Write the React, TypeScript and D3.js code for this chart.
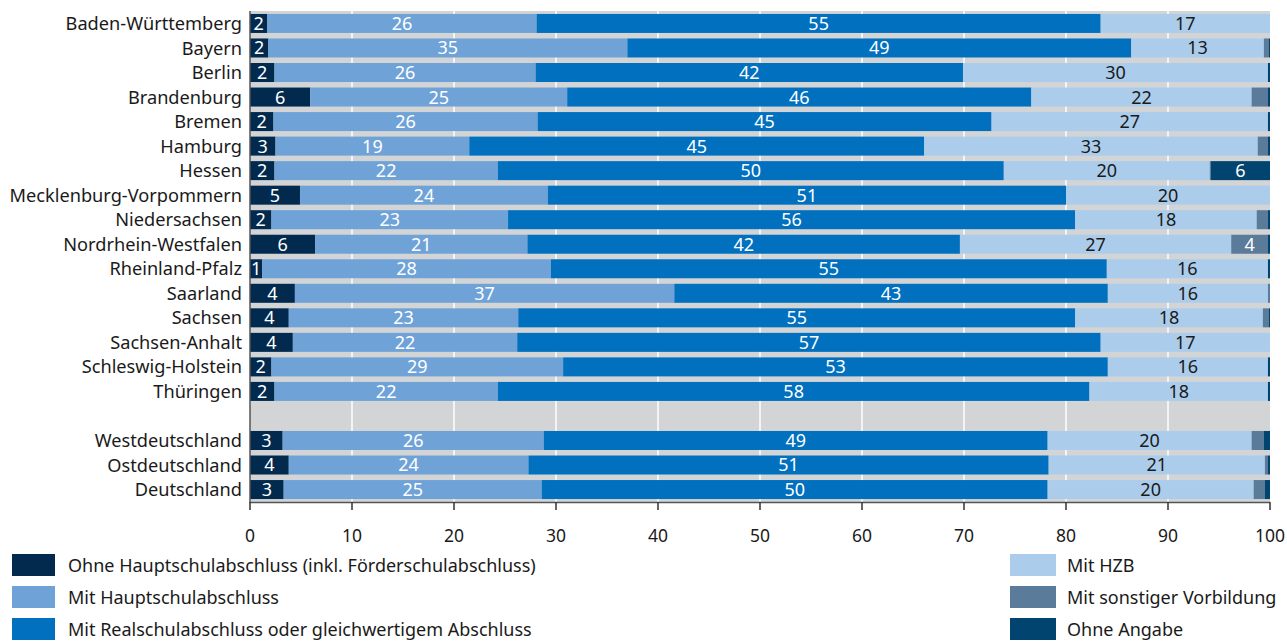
import React from "react";
import * as d3 from "d3";

const states = [
  "Baden-Württemberg", "Bayern", "Berlin", "Brandenburg", "Bremen", "Hamburg", "Hessen",
  "Mecklenburg-Vorpommern", "Niedersachsen", "Nordrhein-Westfalen", "Rheinland-Pfalz",
  "Saarland", "Sachsen", "Sachsen-Anhalt", "Schleswig-Holstein", "Thüringen",
];
const totals = ["Westdeutschland", "Ostdeutschland", "Deutschland"];
const categories = [...states, ...totals];

const seriesNames = [
  "Ohne Hauptschulabschluss (inkl. Förderschulabschluss)",
  "Mit Hauptschulabschluss",
  "Mit Realschulabschluss oder gleichwertigem Abschluss",
  "Mit HZB",
  "Mit sonstiger Vorbildung",
  "Ohne Angabe",
];

const ohneHS = [1.7, 1.8, 2.4, 5.9, 2.3, 2.5, 2.4, 4.9, 2.1, 6.4, 1.2, 4.4, 3.8, 4.2, 2.1, 2.4, 3.2, 3.8, 3.3];
const mitHS = [26.4, 35.2, 25.6, 25.2, 25.9, 19.0, 21.9, 24.3, 23.2, 20.8, 28.3, 37.2, 22.5, 22.0, 28.6, 21.9, 25.6, 23.5, 25.3];
const mitRS = [55.3, 49.4, 41.9, 45.5, 44.5, 44.6, 49.6, 50.8, 55.6, 42.4, 54.5, 42.5, 54.6, 57.2, 53.4, 58.0, 49.4, 51.0, 49.6];
const mitHZB = [16.6, 13.0, 29.9, 21.6, 27.1, 32.7, 20.2, 20.0, 17.8, 26.6, 15.8, 15.7, 18.4, 16.6, 15.7, 17.5, 20.0, 21.2, 20.2];
const sonstige = [0, 0.5, 0, 1.6, 0, 1.0, 0.1, 0, 1.1, 3.6, 0, 0.2, 0.6, 0, 0, 0, 1.2, 0.3, 1.1];
const ohneAngabe = [0, 0.1, 0.2, 0.2, 0.2, 0.2, 5.8, 0, 0.2, 0.2, 0.2, 0, 0.1, 0, 0.2, 0.2, 0.6, 0.2, 0.5];

const xTicks = [0, 10, 20, 30, 40, 50, 60, 70, 80, 90, 100];

const colors = ["#012a4e", "#6fa3d8", "#0070bf", "#abcdeb", "#5a7b99", "#00446f"];
const labelColors = ["#ffffff", "#ffffff", "#ffffff", "#1a1a1a", "#ffffff", "#ffffff"];
const keys = ["s0", "s1", "s2", "s3", "s4", "s5"];
const seriesData = [ohneHS, mitHS, mitRS, mitHZB, sonstige, ohneAngabe];

const FONT = "'Noto Sans', sans-serif";

export default function App() {
  const width = 1287;
  const height = 641;
  const left = 250;
  const right = 1270;
  const top = 11;
  const bottom = 502;

  const rows = categories.map((c, i) => {
    const r: any = { cat: c };
    keys.forEach((k, j) => (r[k] = seriesData[j][i]));
    return r;
  });

  const domain = [...states, "__gap__", ...totals];
  const x = d3.scaleLinear().domain([0, 100]).range([left, right]);
  const y = d3.scaleBand<string>().domain(domain).range([top, bottom]).paddingInner(0.225).paddingOuter(0.12);
  const stacked = d3.stack<any>().keys(keys)(rows);

  const legendLeft = [0, 1, 2];
  const legendRight = [3, 4, 5];

  return (
    <svg width={width} height={height} style={{ position: "absolute", left: 0, top: 0, display: "block" }}>
      <rect x={left} y={top} width={right - left} height={bottom - top} fill="#d3d4d6" />
      {xTicks.slice(1, -1).map((t) => (
        <line key={"g" + t} x1={x(t)} x2={x(t)} y1={top} y2={bottom} stroke="#ffffff" strokeWidth={1.5} />
      ))}
      {stacked.map((s, si) => (
        <g key={s.key} fill={colors[si]}>
          {s.map((d: any) => (
            <rect
              key={d.data.cat}
              x={x(d[0])}
              y={y(d.data.cat)}
              width={Math.max(0, x(d[1]) - x(d[0]))}
              height={y.bandwidth()}
            />
          ))}
        </g>
      ))}
      {stacked.map((s, si) => (
        <g key={"l" + s.key}>
          {s.map((d: any) => {
            const v = d.data[s.key] as number;
            const show = si < 4 ? v >= 1 : v >= 3;
            if (!show) return null;
            return (
              <text
                key={d.data.cat}
                x={(x(d[0]) + x(d[1])) / 2}
                y={(y(d.data.cat) as number) + y.bandwidth() / 2}
                dy="0.36em"
                textAnchor="middle"
                fontFamily={FONT}
                fontSize={18}
                fill={labelColors[si]}
              >
                {Math.round(v)}
              </text>
            );
          })}
        </g>
      ))}
      {categories.map((c) => (
        <text
          key={"c" + c}
          x={242}
          y={(y(c) as number) + y.bandwidth() / 2}
          dy="0.36em"
          textAnchor="end"
          fontFamily={FONT}
          fontSize={18.2}
          fill="#1a1a1a"
        >
          {c}
        </text>
      ))}
      <line x1={left} x2={left} y1={top} y2={bottom + 1} stroke="#555" strokeWidth={1.5} />
      <line x1={left} x2={right} y1={bottom + 0.5} y2={bottom + 0.5} stroke="#555" strokeWidth={1.5} />
      {xTicks.map((t) => (
        <g key={"t" + t}>
          <line x1={x(t)} x2={x(t)} y1={bottom} y2={bottom + 8} stroke="#333" strokeWidth={1.5} />
          <text x={x(t)} y={536} dy="0.36em" textAnchor="middle" fontFamily={FONT} fontSize={17.5} fill="#1a1a1a">
            {t}
          </text>
        </g>
      ))}
      {legendLeft.map((si, i) => (
        <g key={"ll" + si}>
          <rect x={12} y={554 + i * 32} width={43} height={22} fill={colors[si]} />
          <text x={68} y={566 + i * 32} dy="0.36em" fontFamily={FONT} fontSize={18} fill="#1a1a1a">
            {seriesNames[si]}
          </text>
        </g>
      ))}
      {legendRight.map((si, i) => (
        <g key={"lr" + si}>
          <rect x={1010} y={554 + i * 32} width={46} height={22} fill={colors[si]} />
          <text x={1067} y={566 + i * 32} dy="0.36em" fontFamily={FONT} fontSize={18} fill="#1a1a1a">
            {seriesNames[si]}
          </text>
        </g>
      ))}
    </svg>
  );
}
